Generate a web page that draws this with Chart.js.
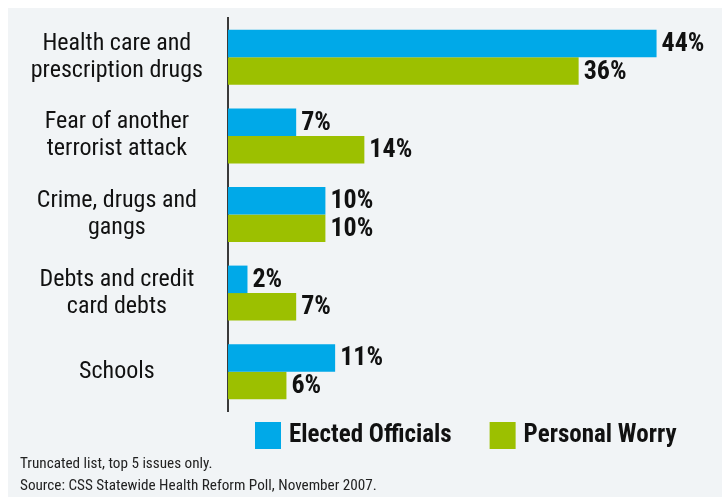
<!DOCTYPE html>
<html>
<head>
<meta charset="utf-8">
<script src="https://cdn.jsdelivr.net/npm/chart.js@4/dist/chart.umd.min.js"></script>
<style>
  body { margin: 0; background: #ffffff; }
  #wrap { width: 726px; height: 497px; }
</style>
</head>
<body>
<div id="wrap"><canvas id="myIssuesChart" width="726" height="497"></canvas></div>
<script>
const categories = [
  ["Health care and", "prescription drugs"],
  ["Fear of another", "terrorist attack"],
  ["Crime, drugs and", "gangs"],
  ["Debts and credit", "card debts"],
  ["Schools"],
];
const electedOfficials = [44, 7, 10, 2, 11];
const personalWorry = [36, 14, 10, 7, 6];
const seriesNames = ["Elected Officials", "Personal Worry"];
const footnotes = [
  "Truncated list, top 5 issues only.",
  "Source: CSS Statewide Health Reform Poll, November 2007.",
];

const FONT = "'Roboto Condensed', 'DejaVu Sans Condensed', sans-serif";
const BLUE = "#00a9e8";
const GREEN = "#9cc000";

// gray panel behind everything
const panelBg = {
  id: "panelBg",
  beforeDraw(chart) {
    const c = chart.ctx;
    c.save();
    c.fillStyle = "#f1f4f6";
    c.fillRect(8, 8, 714, 489);
    c.restore();
  },
};

// percentage at the end of every bar
const valueLabels = {
  id: "valueLabels",
  afterDatasetsDraw(chart) {
    const c = chart.ctx;
    c.save();
    c.font = "bold 26px " + FONT;
    c.fillStyle = "#111111";
    c.textAlign = "left";
    c.textBaseline = "middle";
    chart.data.datasets.forEach((ds, i) => {
      chart.getDatasetMeta(i).data.forEach((bar, j) => {
        c.fillText(ds.data[j] + "%", bar.x + 5, bar.y + 1);
      });
    });
    c.restore();
  },
};

// legend row and source notes under the bars
const legendAndNotes = {
  id: "legendAndNotes",
  afterDraw(chart) {
    const c = chart.ctx;
    c.save();
    c.font = "bold 25px " + FONT;
    c.textBaseline = "middle";
    c.textAlign = "left";
    let x = 255;
    const y = 422;
    chart.data.datasets.forEach((ds) => {
      c.fillStyle = ds.backgroundColor;
      c.fillRect(x, y, 26, 27);
      c.fillStyle = "#111111";
      c.fillText(ds.label, x + 34, y + 14);
      x += 34 + c.measureText(ds.label).width + 38;
    });
    c.font = "15.2px " + FONT;
    c.textBaseline = "alphabetic";
    c.fillStyle = "#222222";
    footnotes.forEach((t, i) => c.fillText(t, 20, 468 + i * 22));
    c.restore();
  },
};

const ctx = document.getElementById("myIssuesChart").getContext("2d");
const myIssuesChart = new Chart(ctx, {
  type: "bar",
  data: {
    labels: categories,
    datasets: [
      {
        label: seriesNames[0],
        data: electedOfficials,
        backgroundColor: BLUE,
      },
      {
        label: seriesNames[1],
        data: personalWorry,
        backgroundColor: GREEN,
      },
    ],
  },
  options: {
    indexAxis: "y",
    responsive: false,
    animation: false,
    barPercentage: 1,
    categoryPercentage: 0.7,
    layout: {
      padding: { top: 18, bottom: 86, left: 8, right: 11 },
    },
    plugins: {
      legend: { display: false },
      tooltip: { enabled: false },
    },
    scales: {
      x: {
        display: false,
        min: 0,
        max: 50,
      },
      y: {
        grid: { display: false, drawTicks: false },
        border: { display: true, color: "#3a3a3a", width: 2 },
        afterFit(scale) {
          scale.width = 220;
          scale.paddingTop = 0;
          scale.paddingBottom = 0;
        },
        ticks: {
          color: "#111111",
          crossAlign: "center",
          padding: 25,
          font: { family: FONT, size: 24, lineHeight: 1.12 },
        },
      },
    },
  },
  plugins: [panelBg, valueLabels, legendAndNotes],
});
</script>
</body>
</html>
